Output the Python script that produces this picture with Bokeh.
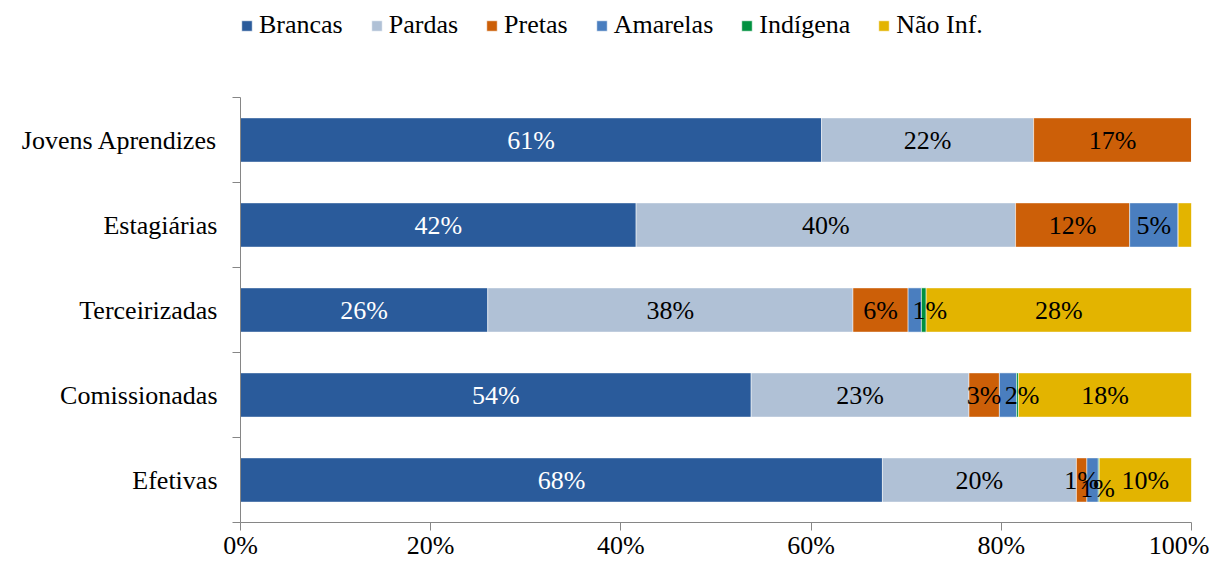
from bokeh.plotting import figure
from bokeh.models import (ColumnDataSource, FixedTicker, NumeralTickFormatter,
                          Legend, LegendItem, Range1d)
from bokeh.core.properties import value
from bokeh.embed import file_html
from bokeh.resources import INLINE

# ---- data (percent) ----
categories = ["Efetivas", "Comissionadas", "Terceirizadas", "Estagiárias", "Jovens Aprendizes"]
series = ["Brancas", "Pardas", "Pretas", "Amarelas", "Indígena", "Não Inf."]

brancas  = [67.5, 53.7, 26.0, 41.6, 61.1]
pardas   = [20.4, 22.9, 38.4, 39.9, 22.3]
pretas   = [1.1, 3.2, 5.8, 12.0, 16.6]
amarelas = [1.2, 1.8, 1.4, 5.1, 0.0]
indigena = [0.1, 0.2, 0.5, 0.0, 0.0]
nao_inf  = [9.7, 18.2, 27.9, 1.4, 0.0]

lbl_brancas  = ["68%", "54%", "26%", "42%", "61%"]
lbl_pardas   = ["20%", "23%", "38%", "40%", "22%"]
lbl_pretas   = ["1%", "3%", "6%", "12%", "17%"]
lbl_amarelas = ["1%", "2%", "1%", "5%", ""]
lbl_indigena = ["", "", "", "", ""]
lbl_nao_inf  = ["10%", "18%", "28%", "", ""]

x_ticks = [0, 0.2, 0.4, 0.6, 0.8, 1.0]

colors = ["#2A5B9B", "#B0C1D6", "#CC5F08", "#4A7EBF", "#00913F", "#E3B400"]
label_colors = ["white", "black", "black", "black", "black", "black"]

values = [brancas, pardas, pretas, amarelas, indigena, nao_inf]
labels = [lbl_brancas, lbl_pardas, lbl_pretas, lbl_amarelas, lbl_indigena, lbl_nao_inf]

# label nudges (screen px) used to keep tiny-segment labels readable
zero = [0, 0, 0, 0, 0]
nudge_x = [zero, zero, zero, [5, 14, 15, 0, 0], zero, zero]
nudge_y = [zero, zero, zero, [8, 0, 0, 0, 0], zero, zero]

FONT = value("Liberation Serif")

H = 562
BOTTOM = 40
TOP_BARS = 97
frame_bottom = H - BOTTOM
n = len(categories)
y_end = n * frame_bottom / (frame_bottom - TOP_BARS)

p = figure(width=1209, height=H, output_backend="svg", toolbar_location=None,
           x_range=Range1d(0, 1), y_range=Range1d(0, y_end),
           min_border_left=240, min_border_right=18, min_border_top=0,
           min_border_bottom=BOTTOM)
p.outline_line_color = None
p.xgrid.visible = False
p.ygrid.visible = False
p.background_fill_color = "white"

ycent = [i + 0.5 for i in range(n)]
left = [0.0] * n
legend_items = []
sources = []
for s, vals, lbls, col, dx, dy in zip(series, values, labels, colors, nudge_x, nudge_y):
    frac = [v / 100.0 for v in vals]
    right = [l + f for l, f in zip(left, frac)]
    mid = [(l + r) / 2 for l, r in zip(left, right)]
    src = ColumnDataSource(dict(y=ycent, left=left, right=right, mid=mid, lbl=lbls,
                                dx=dx, dy=dy))
    sources.append(src)
    r = p.hbar(y="y", left="left", right="right", height=0.52, source=src,
               fill_color=col, line_color="white", line_alpha=0.5, line_width=1)
    legend_items.append(LegendItem(label=s, renderers=[r]))
    left = right

# data labels drawn after all bars so none is hidden
for src, lcol in zip(sources, label_colors):
    p.text(x="mid", y="y", text="lbl", source=src, x_offset="dx", y_offset="dy",
           text_align="center", text_baseline="middle", text_color=lcol,
           text_font=FONT, text_font_size="26px")

# x axis
xa = p.xaxis[0]
xa.ticker = FixedTicker(ticks=x_ticks, minor_ticks=[])
xa.formatter = NumeralTickFormatter(format="0%")
xa.axis_line_color = "#868686"
xa.major_tick_line_color = "#868686"
xa.major_tick_in = 0
xa.major_tick_out = 8
xa.minor_tick_line_color = None
xa.major_label_text_font = "Liberation Serif"
xa.major_label_text_font_size = "26px"
xa.major_label_text_color = "black"
xa.major_label_standoff = 0

# y axis: labels at centres, ticks at boundaries
ya = p.yaxis[0]
ya.bounds = (0, n)
ya.ticker = FixedTicker(ticks=ycent, minor_ticks=list(range(n + 1)))
ya.major_label_overrides = {c: name for c, name in zip(ycent, categories)}
ya.axis_line_color = "#868686"
ya.major_tick_line_color = None
ya.major_tick_in = 0
ya.major_tick_out = 8
ya.minor_tick_line_color = "#868686"
ya.minor_tick_in = 0
ya.minor_tick_out = 8
ya.major_label_text_font = "Liberation Serif"
ya.major_label_text_font_size = "26px"
ya.major_label_text_color = "black"
ya.major_label_standoff = 15

legend = Legend(items=legend_items, orientation="horizontal",
                location=(0, frame_bottom - 40),
                glyph_width=13, glyph_height=13, label_standoff=6, spacing=27,
                padding=0, margin=0, border_line_color=None,
                background_fill_alpha=0,
                label_text_font="Liberation Serif", label_text_font_size="26px",
                label_text_color="black", label_height=26)
p.add_layout(legend, "center")

open("out.html", "w").write(file_html(p, INLINE))
